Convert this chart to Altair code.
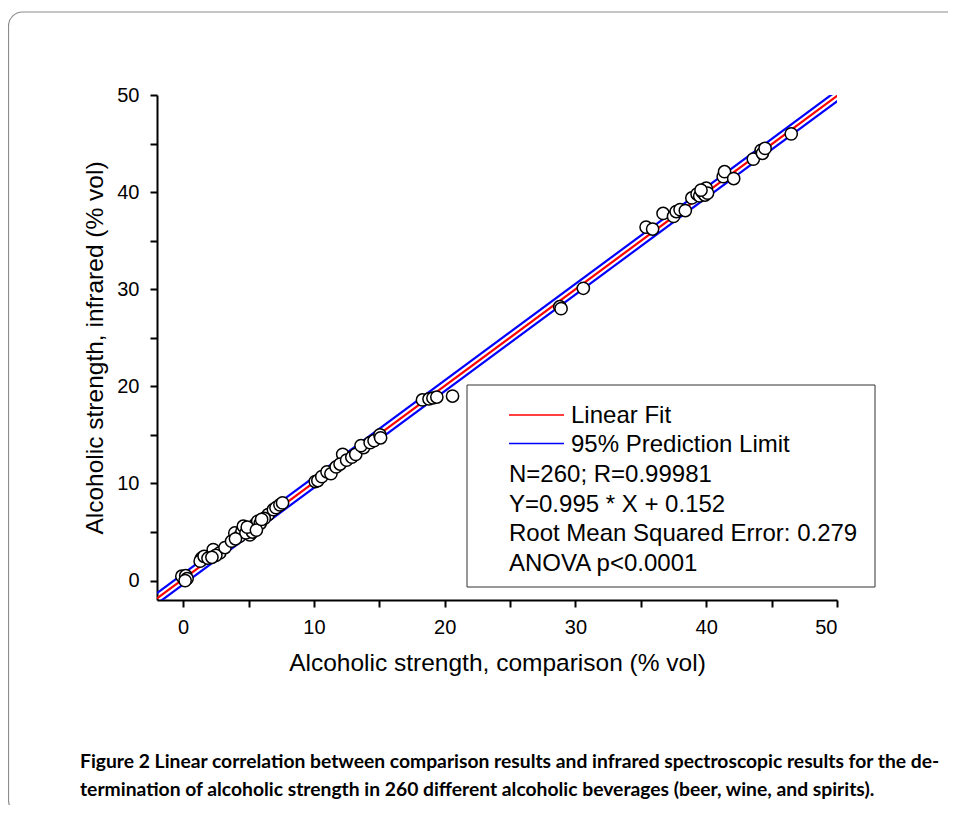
import altair as alt
import pandas as pd

# ---- data ----
x_comparison = [
    0.0, 0.1, -0.1, 0.2, 0.3, 0.15,
    1.4, 1.5, 1.3, 1.6, 2.3, 1.9, 2.8, 2.5, 3.2, 2.2,
    3.7, 3.95, 4.3, 4.5, 4.6, 5.0, 5.2, 5.1, 5.5, 5.7, 5.9, 4.8, 5.3, 4.9, 5.6, 4.0,
    6.5, 6.9, 7.1, 7.4, 7.6, 6.2, 6.0,
    10.1, 10.3, 10.6, 11.0, 11.3, 11.7, 12.2, 12.0, 12.5, 12.9, 13.2, 13.8, 13.6,
    14.3, 14.6, 15.05, 15.1,
    18.3, 18.8, 19.1, 19.4, 20.6,
    28.8, 28.9, 30.6,
    35.4, 35.9, 36.7, 37.5, 37.7, 38.0, 38.4, 38.9, 39.3, 39.5, 39.7, 39.9, 40.0,
    40.1, 39.6, 41.3, 41.4, 42.1, 43.6, 44.2, 44.3, 44.5, 46.5,
]
y_infrared = [
    0.3, 0.1, 0.45, 0.5, 0.2, 0.0,
    2.3, 2.2, 2.0, 2.5, 3.2, 2.3, 2.85, 2.6, 3.4, 2.4,
    4.05, 4.9, 4.55, 5.1, 5.6, 5.25, 5.4, 4.7, 5.75, 6.1, 5.9, 4.9, 5.0, 5.5, 5.2, 4.3,
    6.8, 7.3, 7.5, 7.8, 8.0, 6.4, 6.3,
    10.2, 10.3, 10.7, 11.2, 11.0, 11.7, 13.0, 12.0, 12.4, 12.7, 13.0, 13.7, 13.9,
    14.2, 14.4, 15.0, 14.7,
    18.6, 18.7, 18.8, 18.9, 19.0,
    28.2, 28.0, 30.1,
    36.4, 36.2, 37.8, 37.5, 38.0, 38.2, 38.1, 39.4, 39.8, 39.6, 40.0, 39.7, 40.4,
    39.9, 40.2, 41.6, 42.1, 41.4, 43.4, 44.3, 44.0, 44.5, 46.0,
]

fit_slope = 0.995
fit_intercept = 0.152
prediction_halfwidth = 0.55
line_x_ends = [-2, 52]

axis_ticks = [0, 5, 10, 15, 20, 25, 30, 35, 40, 45, 50]
x_title = "Alcoholic strength, comparison (% vol)"
y_title = "Alcoholic strength, infrared (% vol)"

legend_series = ["Linear Fit", "95% Prediction Limit"]
legend_stats = [
    "N=260; R=0.99981",
    "Y=0.995 * X + 0.152",
    "Root Mean Squared Error: 0.279",
    "ANOVA p<0.0001",
]
caption_lines = [
    "Figure 2 Linear correlation between comparison results and infrared spectroscopic results for the de-",
    "termination of alcoholic strength in 260 different alcoholic beverages (beer, wine, and spirits).",
]

# ---- tables ----
points = pd.DataFrame({"x": x_comparison, "y": y_infrared})

rows = []
for name, off in [("fit", 0.0), ("upper", prediction_halfwidth), ("lower", -prediction_halfwidth)]:
    for xv in line_x_ends:
        rows.append({"x": xv, "y": fit_slope * xv + fit_intercept + off, "series": name})
lines = pd.DataFrame(rows)

W, H = 680, 505
FONT = "Liberation Sans"

def make_axis(title, lpad, tpad):
    return alt.Axis(
        values=axis_ticks,
        labelExpr="datum.value % 10 == 0 ? datum.label : ''",
        grid=False,
        domainColor="black", domainWidth=2,
        tickColor="black", tickWidth=2, tickSize=7,
        labelFont=FONT, labelFontSize=20, labelColor="black", labelPadding=lpad,
        title=title, titleFont=FONT, titleFontSize=24.5, titleFontWeight="normal",
        titleColor="black", titlePadding=tpad,
    )

xs = alt.Scale(domain=[-2, 50], nice=False, zero=False)
ys = alt.Scale(domain=[-2, 50], nice=False, zero=False)

line_layer = alt.Chart(lines).mark_line(strokeWidth=2.2, clip=True).encode(
    x=alt.X("x:Q", scale=xs, axis=make_axis(x_title, 10, 14)),
    y=alt.Y("y:Q", scale=ys, axis=make_axis(y_title, 11, 9)),
    color=alt.Color("series:N", scale=alt.Scale(domain=["fit", "upper", "lower"],
                                                 range=["#ff0000", "#0000ff", "#0000ff"]), legend=None),
    detail="series:N",
)

point_layer = alt.Chart(points).mark_point(
    shape="circle", filled=False, fill="white", fillOpacity=1, stroke="black",
    strokeWidth=1.5, size=150, opacity=1, clip=True,
).encode(x=alt.X("x:Q", scale=xs), y=alt.Y("y:Q", scale=ys))

one = pd.DataFrame({"a": [0]})

frame = alt.Chart(one).mark_rect(
    fillOpacity=0, stroke="#8c8c8c", strokeWidth=1.2, cornerRadius=14,
).encode(x=alt.value(-148.5), x2=alt.value(830), y=alt.value(-83), y2=alt.value(719))

caption_layers = []
for i, t in enumerate(caption_lines):
    caption_layers.append(
        alt.Chart(one).mark_text(
            align="left", baseline="middle", font="Lato", fontSize=19.3, fontWeight="bold",
            color="black",
        ).encode(x=alt.value(-77), y=alt.value(667 + i * 28), text=alt.value(t))
    )

legend_box = alt.Chart(one).mark_rect(
    fill="white", stroke="#333333", strokeWidth=1,
).encode(x=alt.value(310), x2=alt.value(718), y=alt.value(290), y2=alt.value(492))

legend_line_layers = []
for i, col in enumerate(["#ff0000", "#0000ff"]):
    yy = 320 + i * 28.5
    legend_line_layers.append(
        alt.Chart(one).mark_rule(color=col, strokeWidth=1.5).encode(
            x=alt.value(352), x2=alt.value(407), y=alt.value(yy)
        )
    )

legend_text_layers = []
for i, t in enumerate(legend_series):
    legend_text_layers.append(
        alt.Chart(one).mark_text(align="left", baseline="middle", font=FONT, fontSize=24, color="black")
        .encode(x=alt.value(414), y=alt.value(321 + i * 28.5), text=alt.value(t))
    )
for i, t in enumerate(legend_stats):
    legend_text_layers.append(
        alt.Chart(one).mark_text(align="left", baseline="middle", font=FONT, fontSize=24, color="black")
        .encode(x=alt.value(352), y=alt.value(380 + i * 29.7), text=alt.value(t))
    )

chart = alt.layer(
    frame, *caption_layers, line_layer, point_layer, legend_box,
    *legend_line_layers, *legend_text_layers,
).properties(
    width=W, height=H,
    autosize=alt.AutoSizeParams(type="none"),
    padding={"left": 149, "top": 87, "right": 111, "bottom": 205},
    background="white",
).configure_view(stroke=None)

chart.save("out.html", embed_options={"renderer": "svg", "actions": False})
